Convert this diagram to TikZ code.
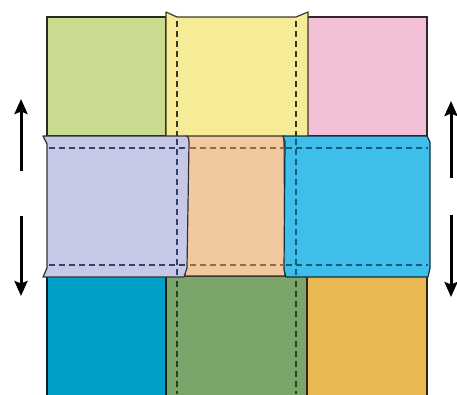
\documentclass[tikz,border=0pt]{standalone}
\usepackage{xcolor}
\usetikzlibrary{arrows.meta}

\definecolor{leafgreen}{RGB}{200,219,142}
\definecolor{butter}{RGB}{246,236,152}
\definecolor{blush}{RGB}{242,191,214}
\definecolor{lavender}{RGB}{198,201,229}
\definecolor{peach}{RGB}{241,201,160}
\definecolor{sky}{RGB}{64,190,234}
\definecolor{ocean}{RGB}{0,160,201}
\definecolor{moss}{RGB}{124,165,106}
\definecolor{honey}{RGB}{233,186,82}
\definecolor{navyseam}{RGB}{52,62,112}
\definecolor{brownseam}{RGB}{160,105,60}
\definecolor{tealseam}{RGB}{18,92,122}
\definecolor{oliveseam}{RGB}{55,55,35}
\definecolor{pineseam}{RGB}{30,70,35}

\begin{document}
\begin{tikzpicture}[x=1pt, y=-1pt,
  cell/.style={
    rectangle, anchor=north west, inner sep=0pt, outer sep=0pt,
    draw=#1!20!black, line width=1.3pt, fill=#1
  },
  strip/.style={draw=#1!25!black, line width=1.2pt, fill=#1, line join=round},
  seam/.style={draw=#1, line width=2.2pt, dash pattern=on 6pt off 4pt},
  move/.style={line width=3pt, draw=black,
               -{Stealth[length=15pt, width=13pt, inset=2.5pt]}}
]
\useasboundingbox (0,0) rectangle (457,394);
\fill[white] (0,0) rectangle (457,394);

% top row
\node[cell=leafgreen, minimum width=119pt, minimum height=119pt]
  (topleft) at (47,17) {};
\node[cell=blush, minimum width=120pt, minimum height=119pt]
  (topright) at (307,17) {};
\filldraw[strip=butter] (166,136) -- (166,12) -- (177,17) -- (296,17)
  -- (308,12) -- (308,136);
\draw[seam=oliveseam] (177,21) -- (177,136);
\draw[seam=oliveseam] (296,21) -- (296,136);

% bottom row
\node[cell=ocean, minimum width=119pt, minimum height=130pt]
  (botleft) at (47,276) {};
\node[cell=moss, minimum width=141pt, minimum height=130pt]
  (botmid) at (166,276) {};
\node[cell=honey, minimum width=120pt, minimum height=130pt]
  (botright) at (307,276) {};
\draw[seam=pineseam] (177,281) -- (177,394);
\draw[seam=pineseam] (296,281) -- (296,394);

% middle band
\filldraw[strip=peach] (186,136) -- (284,136) -- (285,276) -- (185,276) -- cycle;
\filldraw[strip=lavender] (43,136) -- (186,136) to[out=0,in=90] (189,142)
  -- (187,268) -- (184,277) -- (43,277) -- (47,268) -- (47,144) -- cycle;
\filldraw[strip=sky] (283,136) -- (427,136) -- (430,142) -- (430,268)
  -- (428,277) -- (286,277) -- (284,270) -- (285,142) -- cycle;

\draw[seam=navyseam] (49,148) -- (188,148);
\draw[seam=navyseam] (49,265) -- (188,265);
\draw[seam=brownseam] (190,148) -- (284,148);
\draw[seam=brownseam] (190,265) -- (284,265);
\draw[seam=tealseam] (286,148) -- (428,148);
\draw[seam=tealseam] (286,265) -- (428,265);
\draw[seam=navyseam] (177,139) -- (177,276);
\draw[seam=tealseam] (296,139) -- (296,276);

% arrows
\coordinate (leftup) at (21,171);
\coordinate (leftuptip) at (21,99);
\coordinate (leftdown) at (21,216);
\coordinate (leftdowntip) at (21,296);
\coordinate (rightup) at (451,178);
\coordinate (rightuptip) at (451,101);
\coordinate (rightdown) at (451,215);
\coordinate (rightdowntip) at (451,297);
\draw[move] (leftup) -- (leftuptip);
\draw[move] (leftdown) -- (leftdowntip);
\draw[move] (rightup) -- (rightuptip);
\draw[move] (rightdown) -- (rightdowntip);
\end{tikzpicture}
\end{document}
